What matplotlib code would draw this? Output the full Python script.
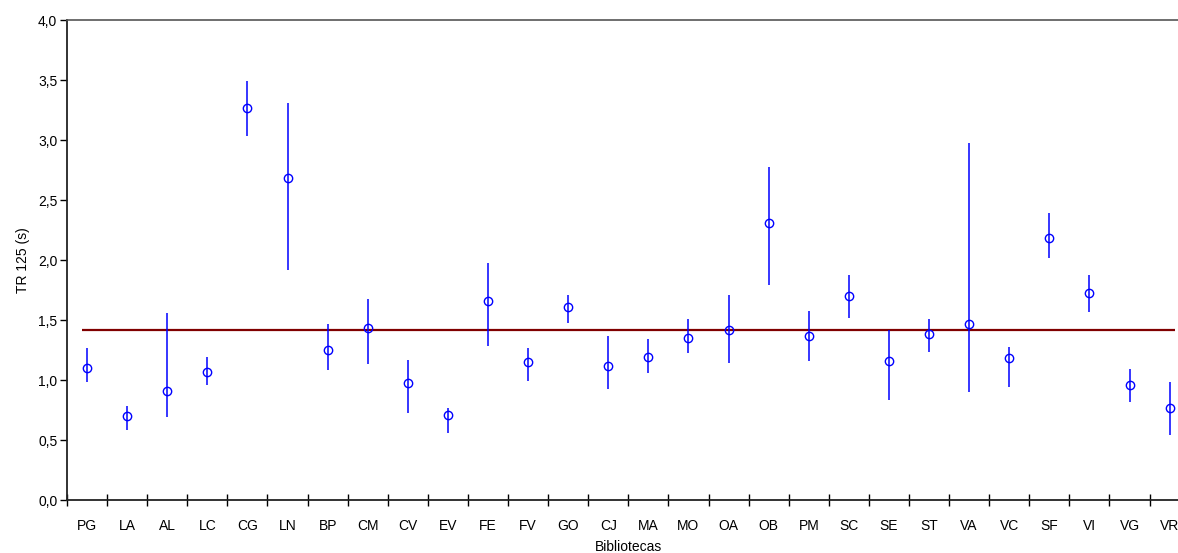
import numpy as np
import matplotlib
matplotlib.use("Agg")
import matplotlib.pyplot as plt
from matplotlib.ticker import FuncFormatter, FixedLocator

plt.rcParams['font.family'] = ['Liberation Sans', 'DejaVu Sans']

bibliotecas = ["PG", "LA", "AL", "LC", "CG", "LN", "BP", "CM", "CV", "EV",
               "FE", "FV", "GO", "CJ", "MA", "MO", "OA", "OB", "PM", "SC",
               "SE", "ST", "VA", "VC", "SF", "VI", "VG", "VR"]
media = [1.10, 0.70, 0.91, 1.07, 3.27, 2.68, 1.25, 1.43, 0.975, 0.71,
         1.66, 1.15, 1.605, 1.12, 1.195, 1.35, 1.415, 2.31, 1.37, 1.70,
         1.155, 1.38, 1.47, 1.185, 2.18, 1.725, 0.958, 0.765]
superior = [1.27, 0.78, 1.555, 1.19, 3.49, 3.31, 1.467, 1.675, 1.165, 0.77,
            1.978, 1.267, 1.711, 1.364, 1.344, 1.508, 1.711, 2.772, 1.575, 1.878,
            1.42, 1.508, 2.972, 1.275, 2.39, 1.878, 1.092, 0.983]
inferior = [0.98, 0.58, 0.69, 0.96, 3.03, 1.92, 1.08, 1.13, 0.728, 0.555,
            1.286, 0.994, 1.478, 0.928, 1.058, 1.225, 1.142, 1.79, 1.161, 1.514,
            0.833, 1.233, 0.903, 0.939, 2.02, 1.57, 0.82, 0.539]
media_geral = 1.42

x = np.arange(len(bibliotecas))
media = np.array(media)
yerr = [media - np.array(inferior), np.array(superior) - media]

fig = plt.figure(figsize=(11.78, 5.53), dpi=100)
ax = fig.add_axes([0.0569, 0.0958, 0.953, 0.868])

ax.hlines(media_geral, -0.13, 27.13, color="#800000", lw=1.6, zorder=1)
ax.errorbar(x, media, yerr=yerr, fmt="o", color="blue", ecolor="blue",
            mfc="none", mec="blue", ms=6, mew=1, elinewidth=1.1, capsize=0, zorder=3)

ax.set_xlim(-0.5, len(bibliotecas) - 0.5)
ax.set_ylim(0, 4.0)
ax.set_yticks(np.arange(0, 4.01, 0.5))
ax.yaxis.set_major_formatter(FuncFormatter(lambda v, p: f"{v:.1f}".replace(".", ",")))

ax.set_xticks(x)
ax.set_xticklabels(bibliotecas)
ax.xaxis.set_minor_locator(FixedLocator(np.arange(-0.5, len(bibliotecas), 1.0)))
ax.tick_params(axis="x", which="major", length=0, pad=14, labelsize=10)
ax.tick_params(axis="x", which="minor", length=8, direction="inout", width=1)
ax.tick_params(axis="y", which="major", length=5, direction="out", width=1, labelsize=10, pad=2)

for s in ["left", "bottom"]:
    ax.spines[s].set_linewidth(1.3)
    ax.spines[s].set_color("#222222")
ax.spines["top"].set_color("#555555")
ax.spines["top"].set_linewidth(1.2)
ax.spines["right"].set_visible(False)

ax.set_ylabel("TR 125 (s)", fontsize=10, labelpad=6)
ax.set_xlabel("Bibliotecas", fontsize=10, labelpad=5)

fig.savefig("out.png", dpi=100)
